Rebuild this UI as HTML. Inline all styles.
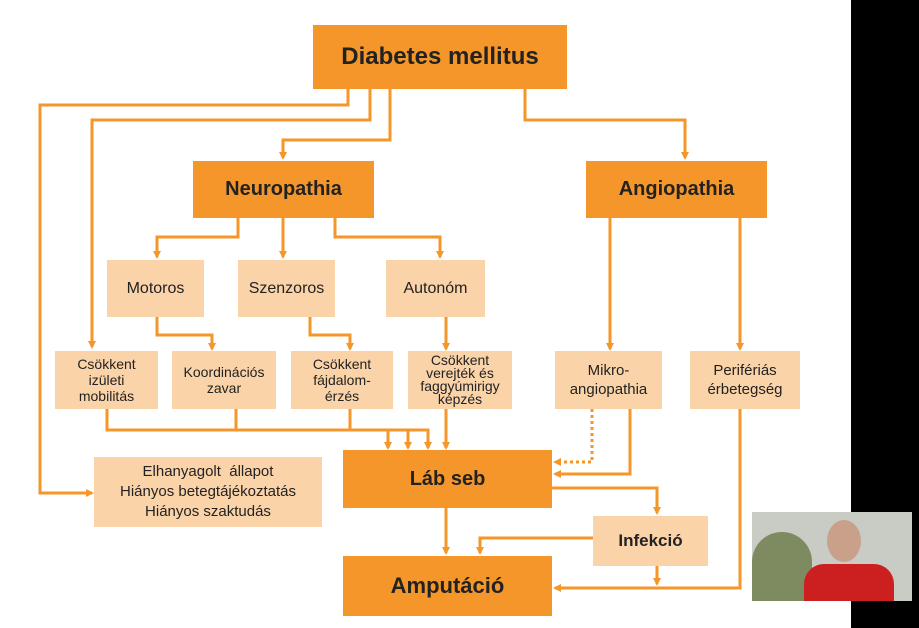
<!DOCTYPE html>
<html><head><meta charset="utf-8"><style>
body{margin:0;width:919px;height:628px;overflow:hidden;background:#fff;font-family:"Liberation Sans",sans-serif}
.b{position:absolute;display:flex;align-items:center;justify-content:center;text-align:center;color:#222}
.d{background:#f5962a;font-weight:bold}
.l{background:#fbd3a8;font-size:14px;line-height:16px}
</style></head><body>
<svg width="919" height="628" style="position:absolute;left:0;top:0">
<defs><marker id="a" markerWidth="8" markerHeight="8" refX="6" refY="4" orient="auto" markerUnits="userSpaceOnUse"><path d="M0,0L8,4L0,8z" fill="#f5962a"/></marker></defs>
<g stroke="#f5962a" stroke-width="3" fill="none">
<path d="M348,89V105H40V493H92" marker-end="url(#a)"/>
<path d="M370,89V120H92V347" marker-end="url(#a)"/>
<path d="M390,89V140H283V158" marker-end="url(#a)"/>
<path d="M525,89V120H685V158" marker-end="url(#a)"/>
<path d="M238,218V237H157V257" marker-end="url(#a)"/>
<path d="M283,218V257" marker-end="url(#a)"/>
<path d="M335,218V237H440V257" marker-end="url(#a)"/>
<path d="M157,317V335H212V349" marker-end="url(#a)"/>
<path d="M310,317V335H350V349" marker-end="url(#a)"/>
<path d="M446,317V349" marker-end="url(#a)"/>
<path d="M107,409V430H428V448" marker-end="url(#a)"/>
<path d="M236,409V430"/><path d="M350,409V430"/>
<path d="M388,430V448" marker-end="url(#a)"/>
<path d="M408,430V448" marker-end="url(#a)"/>
<path d="M446,409V448" marker-end="url(#a)"/>
<path d="M610,218V349" marker-end="url(#a)"/>
<path d="M740,218V349" marker-end="url(#a)"/>
<path d="M592,409V462H555" stroke-dasharray="3,3" marker-end="url(#a)"/>
<path d="M630,409V474H555" marker-end="url(#a)"/>
<path d="M740,409V588H555" marker-end="url(#a)"/>
<path d="M446,508V553" marker-end="url(#a)"/>
<path d="M552,488H657V513" marker-end="url(#a)"/>
<path d="M593,538H480V553" marker-end="url(#a)"/>
<path d="M657,566V584" marker-end="url(#a)"/>
</g></svg>
<div class="b d" style="left:313px;top:25px;width:254px;height:64px;font-size:24px">Diabetes mellitus</div>
<div class="b d" style="left:193px;top:161px;width:181px;height:57px;font-size:20px">Neuropathia</div>
<div class="b d" style="left:586px;top:161px;width:181px;height:57px;font-size:20px">Angiopathia</div>
<div class="b l" style="left:107px;top:260px;width:97px;height:57px;font-size:16px">Motoros</div>
<div class="b l" style="left:238px;top:260px;width:97px;height:57px;font-size:16px">Szenzoros</div>
<div class="b l" style="left:386px;top:260px;width:99px;height:57px;font-size:16px">Autonóm</div>
<div class="b l" style="left:55px;top:351px;width:103px;height:58px">Csökkent<br>izületi<br>mobilitás</div>
<div class="b l" style="left:172px;top:351px;width:104px;height:58px">Koordinációs<br>zavar</div>
<div class="b l" style="left:291px;top:351px;width:102px;height:58px">Csökkent<br>fájdalom-<br>érzés</div>
<div class="b l" style="left:408px;top:351px;width:104px;height:58px;line-height:13px">Csökkent<br>verejték és<br>faggyúmirigy<br>képzés</div>
<div class="b l" style="left:555px;top:351px;width:107px;height:58px;font-size:15px;line-height:19px">Mikro-<br>angiopathia</div>
<div class="b l" style="left:690px;top:351px;width:110px;height:58px;font-size:15px;line-height:19px">Perifériás<br>érbetegség</div>
<div class="b d" style="left:343px;top:450px;width:209px;height:58px;font-size:20px">Láb seb</div>
<div class="b l" style="left:94px;top:457px;width:228px;height:70px;font-size:15px;line-height:20px">Elhanyagolt &nbsp;állapot<br>Hiányos betegtájékoztatás<br>Hiányos szaktudás</div>
<div class="b l" style="left:593px;top:516px;width:115px;height:50px;font-size:17px;font-weight:bold">Infekció</div>
<div class="b d" style="left:343px;top:556px;width:209px;height:60px;font-size:22px">Amputáció</div>
<div style="position:absolute;left:851px;top:0;width:68px;height:628px;background:#000"></div>
<div style="position:absolute;left:752px;top:512px;width:160px;height:89px;background:#c9ccc4;overflow:hidden">
<div style="position:absolute;left:0;top:20px;width:60px;height:69px;background:#7e8a5f;border-radius:30px 30px 0 0"></div>
<div style="position:absolute;left:75px;top:8px;width:34px;height:42px;background:#c9a08a;border-radius:50%"></div>
<div style="position:absolute;left:52px;top:52px;width:90px;height:40px;background:#cc2020;border-radius:20px 20px 0 0"></div>
</div>
</body></html>
